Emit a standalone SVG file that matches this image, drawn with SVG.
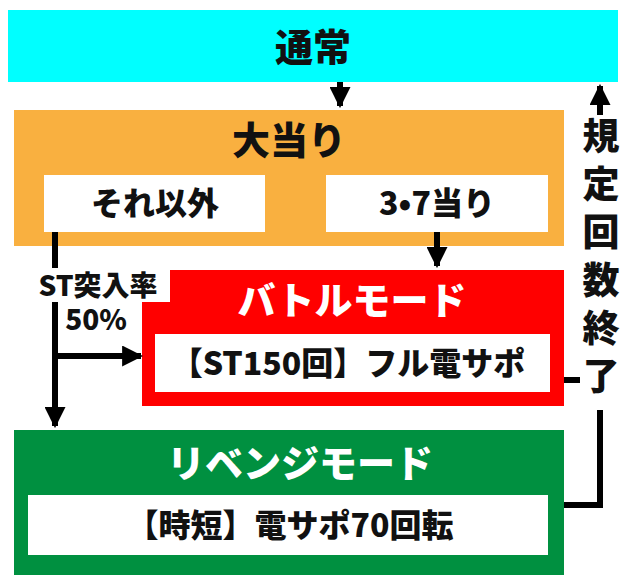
<svg xmlns="http://www.w3.org/2000/svg" width="640" height="582" viewBox="0 0 640 582">
<style>
text{font-family:"Noto Sans CJK JP","Noto Sans",sans-serif;font-weight:900;text-anchor:middle}
.t{font-size:32px;fill:#111}
.w{font-size:38px;fill:#fff}
.b{font-size:38px;fill:#111}
.v{font-size:37px;fill:#111}
.ln{stroke:#000;stroke-width:6;fill:none}
</style>
<defs><marker id="a" viewBox="0 0 10 10" refX="9" refY="5" markerWidth="3.5" markerHeight="3.5" orient="auto"><path d="M0,0L10,5L0,10z" fill="#000"/></marker></defs>
<g id="normal"><rect x="8" y="10" width="610" height="72" fill="#00ffff"/><text class="b" x="313" y="61">通常</text></g>
<g id="bigwin"><rect x="14" y="110" width="550" height="136" fill="#f9b040"/><text class="b" x="289" y="154">大当り</text>
<rect x="44" y="175" width="221" height="57" fill="#fff"/><text class="t" x="155" y="215">それ以外</text>
<rect x="326" y="175" width="222" height="57" fill="#fff"/><text class="t" x="437" y="215">3•7当り</text></g>
<g id="battle"><rect x="142" y="270" width="422" height="136" fill="#ff0000"/><text class="w" x="352" y="314">バトルモード</text>
<rect x="155" y="334" width="395" height="58" fill="#fff"/><text class="t" x="348" y="375">【ST150回】フル電サポ</text></g>
<g id="revenge"><rect x="14" y="430" width="550" height="145" fill="#009040"/><text class="w" x="300" y="477">リベンジモード</text>
<rect x="28" y="495" width="520" height="60" fill="#fff"/><text class="t" x="290" y="537">【時短】電サポ70回転</text></g>
<g id="connectors">
<path class="ln" d="M340,82V106" marker-end="url(#a)"/>
<path class="ln" d="M437,232V266" marker-end="url(#a)"/>
<path class="ln" d="M55,232V426" marker-end="url(#a)"/>
<path class="ln" d="M55,356H141" marker-end="url(#a)"/>
<path class="ln" d="M564,380H600M564,505H600V86" marker-end="url(#a)"/>
</g>
<g id="labels">
<rect x="26" y="268" width="144" height="34" fill="#fff"/><text class="t" x="98" y="296" style="font-size:28px">ST突入率</text>
<rect x="58" y="302" width="76" height="34" fill="#fff"/><text class="t" x="96" y="330" style="font-size:28px">50%</text>
<rect x="580" y="115" width="42" height="295" fill="#fff"/>
<text class="v" x="601" y="150">規</text>
<text class="v" x="601" y="198">定</text>
<text class="v" x="601" y="246">回</text>
<text class="v" x="601" y="294">数</text>
<text class="v" x="601" y="342">終</text>
<text class="v" x="601" y="390">了</text>
</g>
</svg>
